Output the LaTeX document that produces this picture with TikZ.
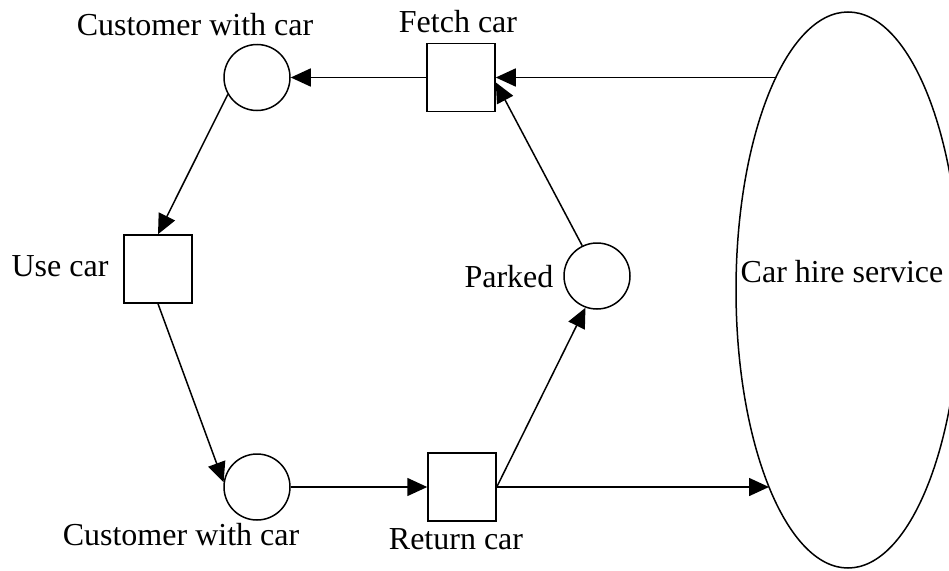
\documentclass[tikz,border=0pt]{standalone}
\usepackage{fontspec}
\setmainfont{Liberation Serif}
\usetikzlibrary{shapes.geometric,arrows.meta}
\begin{document}
\begin{tikzpicture}[x=1pt,y=-1pt,
  place/.style={draw, circle, minimum size=66pt, inner sep=0pt, line width=1.5pt},
  trans/.style={draw, rectangle, minimum width=68pt, minimum height=68pt, inner sep=0pt, line width=1.5pt},
  lbl/.style={anchor=base, font=\fontsize{32}{38}\selectfont, inner sep=0pt},
  arc/.style={line width=1.5pt, -{Triangle[length=20pt,width=18pt]}},
]
\useasboundingbox (0,0) rectangle (949,570);
% nodes
\node[place] (c1) at (257,77.5) {};
\node[trans] (fetch) at (461,77.5) {};
\node[trans] (use) at (158,269) {};
\node[place] (parked) at (597,276) {};
\node[place] (c2) at (257,487) {};
\node[trans] (ret) at (462,487) {};
\node[draw, ellipse, minimum width=224pt, minimum height=556pt, inner sep=0pt, line width=1.5pt] (hire) at (848,290) {};
% labels
\node[lbl] (l1) at (195,35) {Customer with car};
\node[lbl] (l2) at (458,32) {Fetch car};
\node[lbl] (l3) at (60,276) {Use car};
\node[lbl] (l4) at (509,287) {Parked};
\node[lbl] (l5) at (181,545) {Customer with car};
\node[lbl] (l6) at (456,549) {Return car};
\node[lbl] (l7) at (842,282) {Car hire service};
% ellipse contact points
\coordinate (e1) at (776,77.5);
\coordinate (e2) at (769,487);
% connectors
\draw[arc] (fetch.west) -- (c1.east);
\draw[arc] (e1) -- (fetch.east);
\draw[arc] (c1.210) -- (use.north);
\draw[arc] (use.south) -- (c2.172);
\draw[arc] (c2.east) -- (ret.west);
\draw[arc] (ret.east) -- (parked.250);
\draw[arc] (ret.east) -- (e2);
\draw[arc] (parked.116) -- (fetch.-8);
\end{tikzpicture}
\end{document}
